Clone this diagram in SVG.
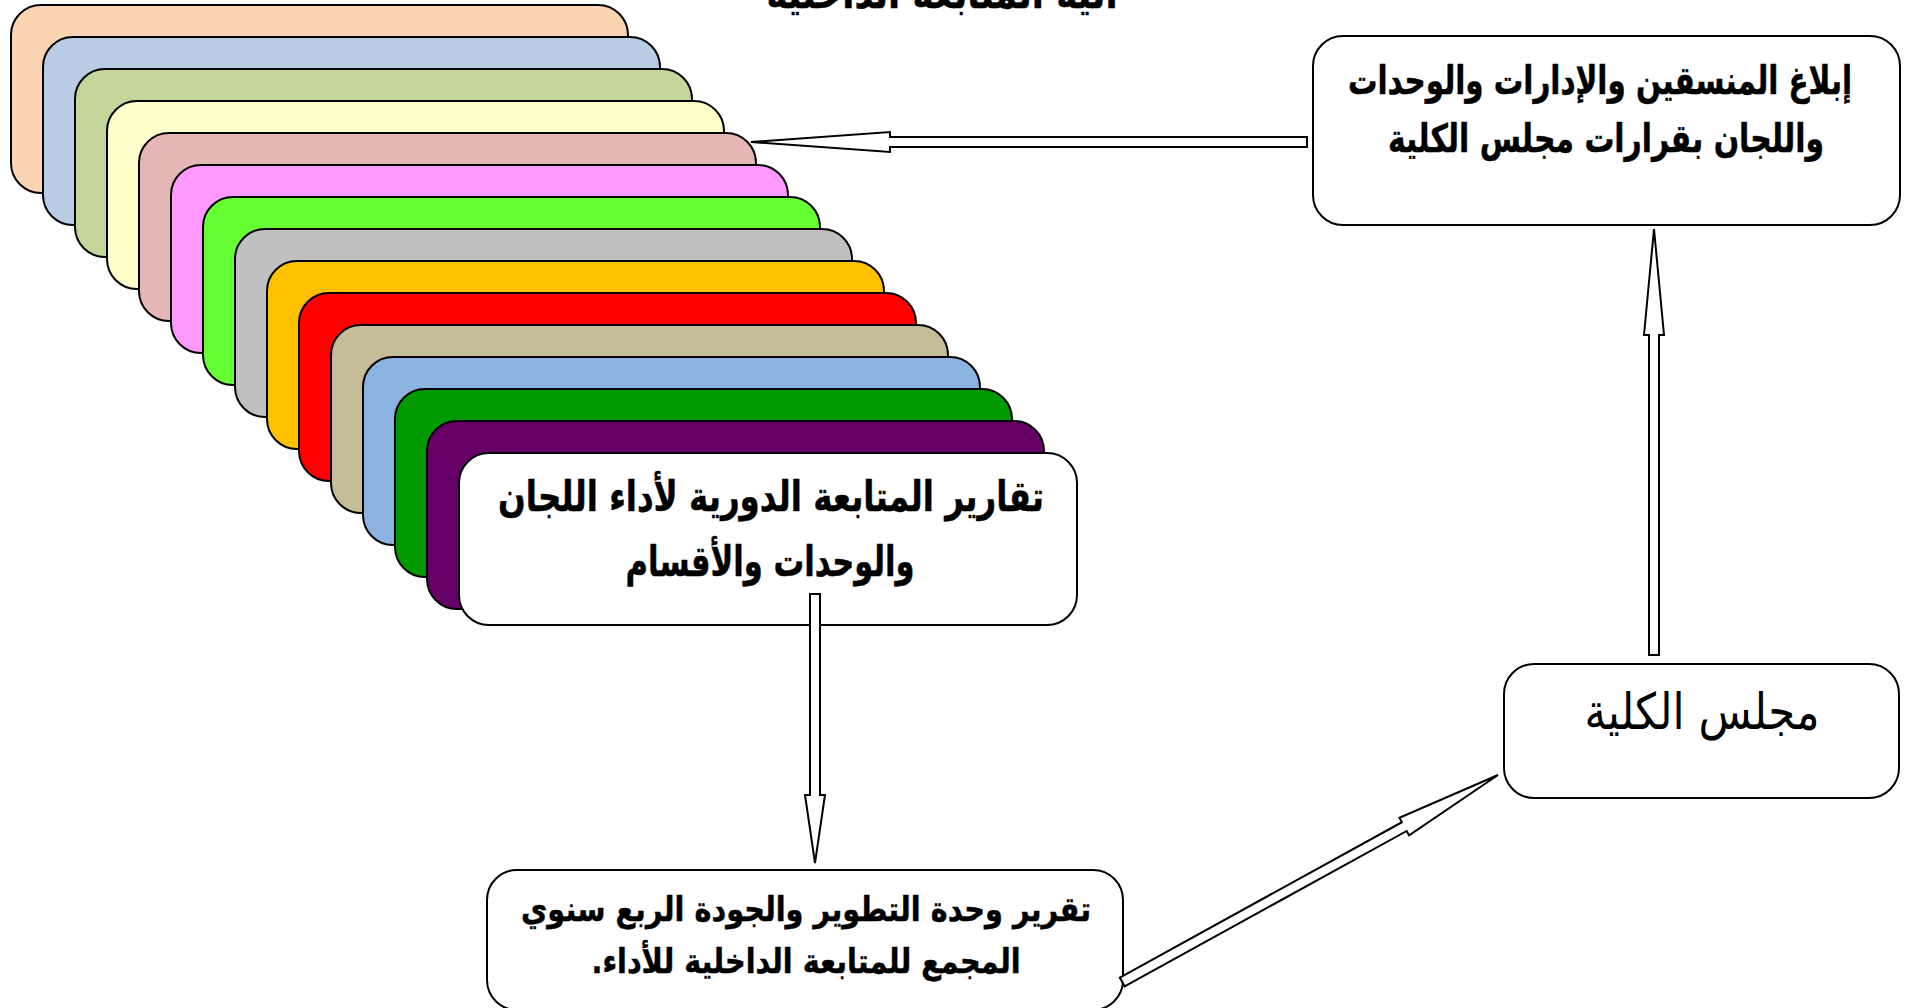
<svg xmlns="http://www.w3.org/2000/svg" width="1910" height="1008" viewBox="0 0 1910 1008">
<style>
.card{stroke:#000;stroke-width:2}
.box{fill:#fff;stroke:#000;stroke-width:2}
.arrow{fill:#fff;stroke:#000;stroke-width:2;stroke-linejoin:miter}
.t{font-family:"DejaVu Sans","Noto Sans",sans-serif;font-weight:bold;text-anchor:middle;direction:rtl;fill:#000;stroke:#000;stroke-width:0.5}
.r{font-family:"DejaVu Sans","Noto Sans",sans-serif;font-weight:normal;text-anchor:middle;direction:rtl;fill:#000}
</style>
<rect width="1910" height="1008" fill="#fff"/>
<g id="title">
<text class="t" x="942" y="8" font-size="42" textLength="351" lengthAdjust="spacingAndGlyphs">آلية المتابعة الداخلية</text>
</g>
<g id="cards">
<rect class="card" x="11" y="5" width="617" height="188" rx="30" fill="#FBD4B4"/>
<rect class="card" x="43" y="37" width="617" height="188" rx="30" fill="#B8CCE4"/>
<rect class="card" x="75" y="69" width="617" height="188" rx="30" fill="#C3D69B"/>
<rect class="card" x="107" y="101" width="617" height="188" rx="30" fill="#FFFFCC"/>
<rect class="card" x="139" y="133" width="617" height="188" rx="30" fill="#E5B8B7"/>
<rect class="card" x="171" y="165" width="617" height="188" rx="30" fill="#FF99FF"/>
<rect class="card" x="203" y="197" width="617" height="188" rx="30" fill="#66FF33"/>
<rect class="card" x="235" y="229" width="617" height="188" rx="30" fill="#C0C0C0"/>
<rect class="card" x="267" y="261" width="617" height="188" rx="30" fill="#FFC000"/>
<rect class="card" x="299" y="293" width="617" height="188" rx="30" fill="#FF0000"/>
<rect class="card" x="331" y="325" width="617" height="188" rx="30" fill="#C4BD97"/>
<rect class="card" x="363" y="357" width="617" height="188" rx="30" fill="#8DB3E2"/>
<rect class="card" x="395" y="389" width="617" height="188" rx="30" fill="#009900"/>
<rect class="card" x="427" y="421" width="617" height="188" rx="30" fill="#660066"/>
</g>
<g id="node-reports">
<rect class="box" x="459" y="453" width="618" height="172" rx="30"/>
<text class="t" x="771" y="511" font-size="42" textLength="546" lengthAdjust="spacingAndGlyphs">تقارير المتابعة الدورية لأداء اللجان</text>
<text class="t" x="770" y="576" font-size="42" textLength="289" lengthAdjust="spacingAndGlyphs">والوحدات والأقسام</text>
</g>
<g id="node-notify">
<rect class="box" x="1313" y="36" width="587" height="189" rx="30"/>
<text class="t" x="1600" y="94" font-size="39" textLength="504" lengthAdjust="spacingAndGlyphs">إبلاغ المنسقين والإدارات والوحدات</text>
<text class="t" x="1606" y="152" font-size="39" textLength="436" lengthAdjust="spacingAndGlyphs">واللجان بقرارات مجلس الكلية</text>
</g>
<g id="node-council">
<rect class="box" x="1504" y="664" width="395" height="134" rx="30"/>
<text class="r" x="1702" y="729" font-size="50" textLength="235" lengthAdjust="spacingAndGlyphs">مجلس الكلية</text>
</g>
<g id="node-quarterly">
<rect class="box" x="487" y="870" width="636" height="140" rx="30"/>
<text class="t" x="806" y="921" font-size="34" textLength="570" lengthAdjust="spacingAndGlyphs">تقرير وحدة التطوير والجودة الربع سنوي</text>
<text class="t" x="806" y="973" font-size="34" textLength="429" lengthAdjust="spacingAndGlyphs">المجمع للمتابعة الداخلية للأداء.</text>
</g>
<g id="connectors">
<polygon class="arrow" points="751,142 890,132 890,137 1307,137 1307,147 890,147 890,152"/>
<polygon class="arrow" points="810,594 820,594 820,795 825,795 815,863 805,795 810,795"/>
<polygon class="arrow" points="1649,655 1659,655 1659,335 1664,335 1654,229 1644,335 1649,335"/>
<polygon class="arrow" transform="translate(1498 775) rotate(-28.84)" points="0,0 -107,-10 -107,-5 -429,-5 -429,5 -107,5 -107,10"/>
</g>
</svg>
